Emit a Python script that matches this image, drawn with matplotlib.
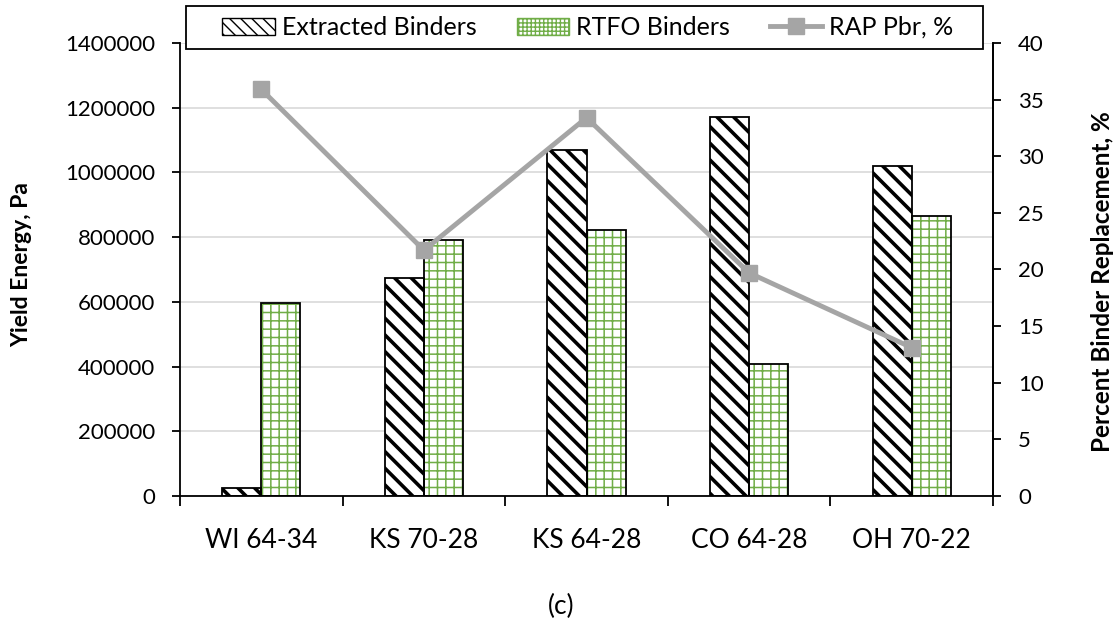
import matplotlib.pyplot as plt
import numpy as np
from matplotlib.patches import Patch, Rectangle
from matplotlib.lines import Line2D

plt.rcParams['font.family'] = ['Lato', 'DejaVu Sans']

binders = ['WI 64-34', 'KS 70-28', 'KS 64-28', 'CO 64-28', 'OH 70-22']
extracted = [24000, 675000, 1068000, 1170000, 1020000]
rtfo = [597000, 790000, 822000, 408000, 866000]
rap_pbr = [35.9, 21.7, 33.4, 19.7, 13.1]

green = '#70AD47'
grey = '#A5A5A5'

fig = plt.figure(figsize=(11.16, 6.21), dpi=100)
ax = fig.add_axes([0.1613, 0.2013, 0.7285, 0.7295])
x = np.arange(len(binders))
w = 0.24

# extracted binders: thick black diagonal stripes
with plt.rc_context({'hatch.linewidth': 2.6}):
    b1 = ax.bar(x - w / 2, extracted, w, color='white', edgecolor='black',
                hatch='\\\\', linewidth=0, zorder=2)
    for p in b1:
        if hasattr(p, 'set_hatch_linewidth'):
            p.set_hatch_linewidth(2.6)
# RTFO binders: thin green grid
with plt.rc_context({'hatch.linewidth': 1.1}):
    b2 = ax.bar(x + w / 2, rtfo, w, color='white', edgecolor=green,
                hatch='++', linewidth=0, zorder=2)
    for p in b2:
        if hasattr(p, 'set_hatch_linewidth'):
            p.set_hatch_linewidth(1.1)
# outlines
ax.bar(x - w / 2, extracted, w, fill=False, edgecolor='black', linewidth=1.3, zorder=3)
ax.bar(x + w / 2, rtfo, w, fill=False, edgecolor='black', linewidth=1.3, zorder=3)

ax.set_xlim(-0.5, len(binders) - 0.5)
ax.set_ylim(0, 1400000)
ax.set_yticks(np.arange(0, 1400001, 200000))
ax.set_yticklabels([str(v) for v in range(0, 1400001, 200000)])
ax.yaxis.grid(True, color='#d9d9d9', linewidth=1.2, zorder=0)
ax.set_axisbelow(True)

ax.set_xticks(np.arange(-0.5, len(binders), 1.0))
ax.set_xticklabels([])
ax.set_xticks(x, minor=True)
ax.set_xticklabels(binders, minor=True)
ax.tick_params(axis='x', which='major', length=7, width=1.3, direction='out')
ax.tick_params(axis='x', which='minor', length=0, pad=23, labelsize=19)
ax.tick_params(axis='y', length=6, width=1.3, direction='out', pad=12, labelsize=16)

ax.spines['top'].set_visible(False)
for s in ['left', 'bottom', 'right']:
    ax.spines[s].set_linewidth(1.3)

ax2 = ax.twinx()
ax2.set_ylim(0, 40)
ax2.set_yticks(np.arange(0, 41, 5))
ax2.plot(x, rap_pbr, color=grey, linewidth=3.5, marker='s', markersize=12, zorder=5)
ax2.tick_params(axis='y', length=6, width=1.3, direction='out', pad=12, labelsize=16)
ax2.spines['top'].set_visible(False)
ax2.spines['right'].set_linewidth(1.3)
ax2.spines['left'].set_visible(False)
ax2.spines['bottom'].set_visible(False)

fig.text(22 / 1116, 1 - 265 / 621, 'Yield Energy, Pa', rotation=90,
         ha='center', va='center', fontsize=16.5, fontweight='bold')
fig.text(1103 / 1116, 1 - 282 / 621, 'Percent Binder Replacement, %', rotation=90,
         ha='center', va='center', fontsize=17.5, fontweight='bold')

# legend frame drawn separately (wider than its entries)
fig.patches.append(Rectangle((186 / 1116, 1 - 49 / 621), 797 / 1116, 43 / 621,
                             transform=fig.transFigure, facecolor='white',
                             edgecolor='black', linewidth=1.3, zorder=9))
handles = [
    Patch(facecolor='white', edgecolor='black', hatch='\\\\\\', linewidth=1.0),
    Patch(facecolor='white', edgecolor=green, hatch='++++', linewidth=1.0),
    Line2D([], [], color=grey, linewidth=3.5, marker='s', markersize=12),
]
labels = ['Extracted Binders', 'RTFO Binders', 'RAP Pbr, %']
leg = fig.legend(handles, labels, loc='center', ncol=3,
                 bbox_to_anchor=(588 / 1116, 1 - 27.5 / 621),
                 fontsize=18, frameon=False,
                 handlelength=2.1, handleheight=0.7, handletextpad=0.28,
                 columnspacing=1.6, borderaxespad=0, borderpad=0)
leg.set_zorder(10)

fig.text(0.503, 0.024, '(c)', ha='center', va='center', fontsize=19)

plt.savefig('out.png', dpi=100)
